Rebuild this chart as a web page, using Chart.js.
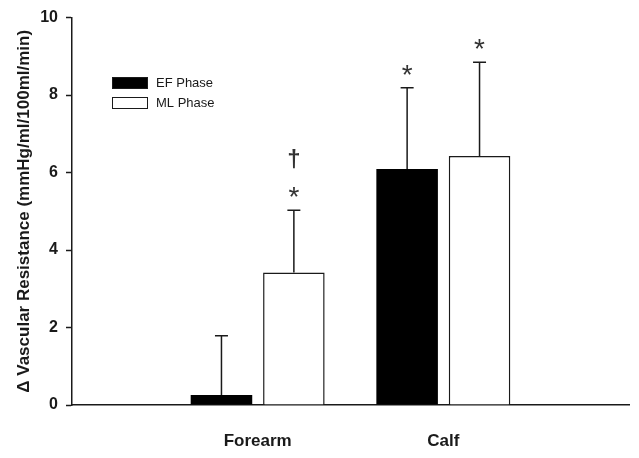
<!DOCTYPE html>
<html>
<head>
<meta charset="utf-8">
<script src="https://cdn.jsdelivr.net/npm/chart.js@4"></script>
<style>
  body { margin: 0; background: #fff; }
  #wrap { width: 639px; height: 458px; }
</style>
</head>
<body>
<div id="wrap"><canvas id="chart1" width="639" height="458"></canvas></div>
<script>
// data (empty slots at both ends keep the axis wide)
var groups = ['', 'Forearm', 'Calf', ''];
var efMean = [null, 0.26, 6.09, null];
var efErr = [null, 1.53, 2.10, null];
var mlMean = [null, 3.42, 6.43, null];
var mlErr = [null, 1.61, 2.42, null];
var efMarks = ['', '', '*', ''];
var mlMarks = ['', '*†', '*', ''];
var yTicks = [0, 2, 4, 6, 8, 10];

var ink = '#1a1a1a';

// error bars (upper only) + significance marks
var errorBars = {
    id: 'errorBars',
    afterDatasetsDraw: function (chart) {
        var ctx = chart.ctx;
        var y = chart.scales.y;
        chart.data.datasets.forEach(function (ds, i) {
            var meta = chart.getDatasetMeta(i);
            meta.data.forEach(function (bar, j) {
                if (ds.data[j] == null) return;
                var top = y.getPixelForValue(ds.data[j] + ds.errors[j]);
                var base = y.getPixelForValue(ds.data[j]);
                ctx.save();
                ctx.strokeStyle = ink;
                ctx.lineWidth = 1.5;
                ctx.beginPath();
                ctx.moveTo(bar.x, base);
                ctx.lineTo(bar.x, top);
                ctx.moveTo(bar.x - 6.5, top);
                ctx.lineTo(bar.x + 6.5, top);
                ctx.stroke();
                // marks stacked above the error cap
                var marks = ds.marks[j];
                ctx.fillStyle = '#333';
                ctx.textAlign = 'center';
                ctx.textBaseline = 'alphabetic';
                for (var k = 0; k < marks.length; k++) {
                    var ch = marks[k];
                    if (ch === '*') {
                        ctx.font = '28px "Liberation Sans", Arial, sans-serif';
                        ctx.fillText(ch, bar.x, top - 4 - k * 30);
                    } else {
                        ctx.font = 'bold 24px "Liberation Sans", Arial, sans-serif';
                        ctx.fillText(ch, bar.x, top - 43);
                    }
                }
                ctx.restore();
            });
        });
    }
};

// legend in the upper left of the plot
var boxLegend = {
    id: 'boxLegend',
    afterDraw: function (chart) {
        var ctx = chart.ctx;
        var x0 = chart.chartArea.left + 40;
        var y0 = 77;
        chart.data.datasets.forEach(function (ds, i) {
            var yy = y0 + i * 20;
            ctx.save();
            ctx.fillStyle = ds.backgroundColor;
            ctx.fillRect(x0, yy, 36, 12);
            ctx.strokeStyle = ink;
            ctx.lineWidth = 1;
            ctx.strokeRect(x0 + 0.5, yy + 0.5, 35, 11);
            ctx.fillStyle = ink;
            ctx.font = '13px "Liberation Sans", Arial, sans-serif';
            ctx.textBaseline = 'middle';
            ctx.fillText(ds.label, x0 + 44, yy + 6.5);
            ctx.restore();
        });
    }
};

new Chart(document.getElementById('chart1'), {
    type: 'bar',
    data: {
        labels: groups,
        datasets: [{
            label: 'EF Phase',
            data: efMean,
            errors: efErr,
            marks: efMarks,
            backgroundColor: '#000000',
            borderColor: '#000000',
            borderWidth: 0
        }, {
            label: 'ML Phase',
            data: mlMean,
            errors: mlErr,
            marks: mlMarks,
            backgroundColor: '#ffffff',
            borderColor: ink,
            borderWidth: 1.5
        }]
    },
    options: {
        responsive: false,
        animation: false,
        categoryPercentage: 0.78,
        barPercentage: 0.85,
        layout: { padding: { top: 16, right: 10, left: 0, bottom: 0 } },
        plugins: {
            legend: { display: false },
            tooltip: { enabled: false }
        },
        scales: {
            x: {
                offset: false,
                // ticks hidden; their length only pushes the labels down
                grid: { display: false, tickLength: 26 },
                border: { display: true, color: ink, width: 1.5 },
                ticks: {
                    color: ink,
                    padding: 0,
                    maxRotation: 0,
                    font: { family: '"Liberation Sans", Arial, sans-serif', size: 17, weight: 'bold' }
                },
                afterFit: function (s) { s.height = 53; }
            },
            y: {
                min: 0,
                max: 10,
                afterBuildTicks: function (s) {
                    s.ticks = yTicks.map(function (v) { return { value: v }; });
                },
                grid: { drawOnChartArea: false, color: ink, tickLength: 6, tickWidth: 1.5 },
                border: { display: true, color: ink, width: 1.5 },
                ticks: {
                    color: ink,
                    padding: 8,
                    font: { family: '"Liberation Sans", Arial, sans-serif', size: 16, weight: 'bold' }
                },
                title: {
                    display: true,
                    text: 'Δ Vascular Resistance (mmHg/ml/100ml/min)',
                    color: ink,
                    padding: { top: 14, bottom: 0 },
                    font: { family: '"Liberation Sans", Arial, sans-serif', size: 17, weight: 'bold' }
                },
                afterFit: function (s) { s.width = 72; }
            }
        }
    },
    plugins: [errorBars, boxLegend]
});
</script>
</body>
</html>
